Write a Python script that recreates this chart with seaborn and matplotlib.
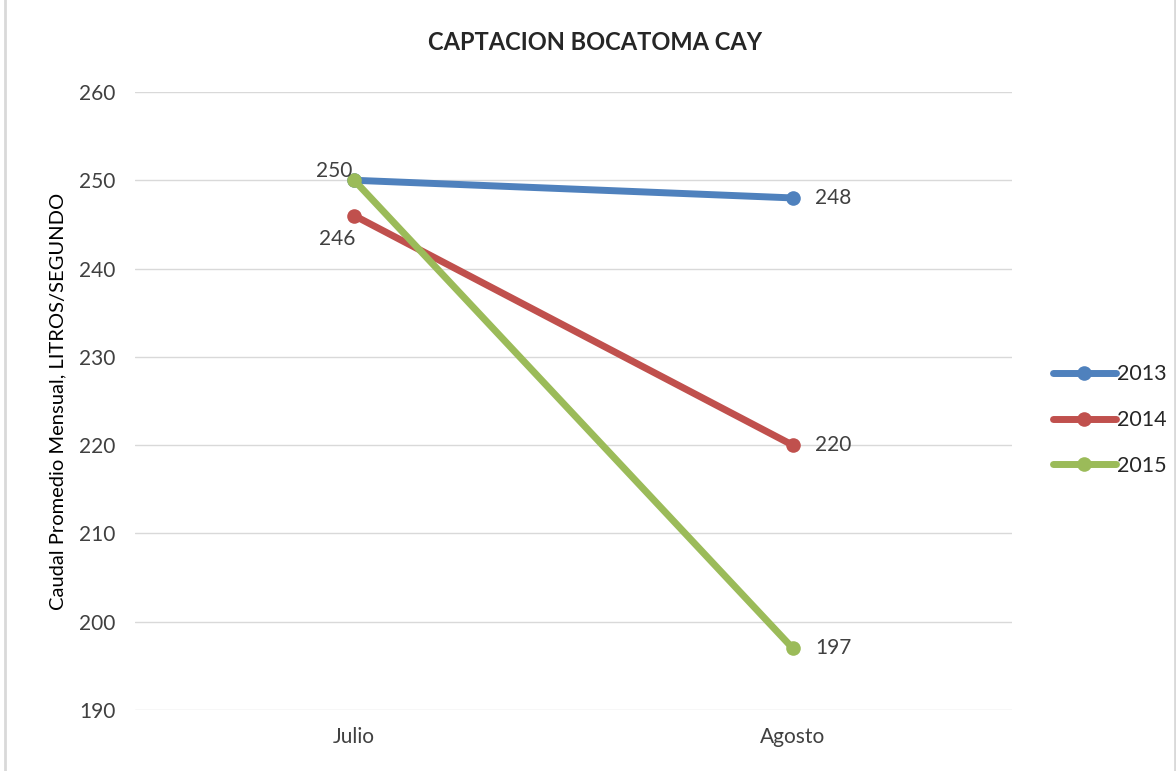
import pandas as pd
import numpy as np
import matplotlib.pyplot as plt
import seaborn as sns
from matplotlib.patches import Rectangle

meses = ['Julio', 'Agosto']
años = ['2013', '2014', '2015']
caudal_2013 = [250, 248]
caudal_2014 = [246, 220]
caudal_2015 = [250, 197]
colores = ['#4F81BD', '#C0504D', '#9BBB59']

df = pd.DataFrame({
    'mes': meses * 3,
    'año': [a for a in años for _ in meses],
    'caudal': caudal_2013 + caudal_2014 + caudal_2015,
})

sns.set_style('white')
plt.rcParams['font.family'] = ['Lato', 'DejaVu Sans']

fig = plt.figure(figsize=(11.76, 7.71), dpi=100)
ax = fig.add_axes([0.1148, 0.0791, 0.7457, 0.8016])

sns.lineplot(data=df, x='mes', y='caudal', hue='año', palette=colores,
             marker='o', markersize=10.5, linewidth=5, markeredgewidth=0,
             sort=False, ax=ax, legend=True)

ax.set_xlim(-0.5, 1.5)
ax.set_ylim(190, 260)
ax.set_yticks(np.arange(190, 261, 10))
ax.yaxis.grid(True, color='#d9d9d9', linewidth=1)
ax.set_axisbelow(True)
for s in ax.spines.values():
    s.set_visible(False)
ax.tick_params(axis='both', length=0, labelsize=15, colors='#404040', pad=14)
ax.tick_params(axis='x', pad=12)
ax.set_xlabel('')
ax.set_ylabel('Caudal Promedio Mensual, LITROS/SEGUNDO', fontsize=14.5, color='black', labelpad=9)
fig.suptitle('CAPTACION BOCATOMA CAY', x=0.506, y=0.9455, va='center',
             fontsize=17, fontweight='bold')

# etiquetas de datos
lab_kw = dict(textcoords='offset points', fontsize=15, color='#404040', va='center')
ax.annotate(str(caudal_2013[0]), (0, caudal_2013[0]), xytext=(-1, 7), ha='right', **lab_kw)
ax.annotate(str(caudal_2014[0]), (0, caudal_2014[0]), xytext=(1, -17), ha='right', **lab_kw)
for vals in [caudal_2013, caudal_2014, caudal_2015]:
    ax.annotate(str(vals[1]), (1, vals[1]), xytext=(16, 0), ha='left', **lab_kw)

handles, labels = ax.get_legend_handles_labels()
ax.legend(handles, labels, loc='center left', bbox_to_anchor=(0.879, 0.455),
          bbox_transform=fig.transFigure, frameon=False, fontsize=15.5,
          handlelength=2.9, handletextpad=0.05, labelspacing=1.2)

fig.patches.append(Rectangle((0.004, -0.01), 0.995, 1.02, transform=fig.transFigure,
                             fill=False, edgecolor='#d9d9d9', linewidth=2))

plt.savefig('out.png', dpi=100)
